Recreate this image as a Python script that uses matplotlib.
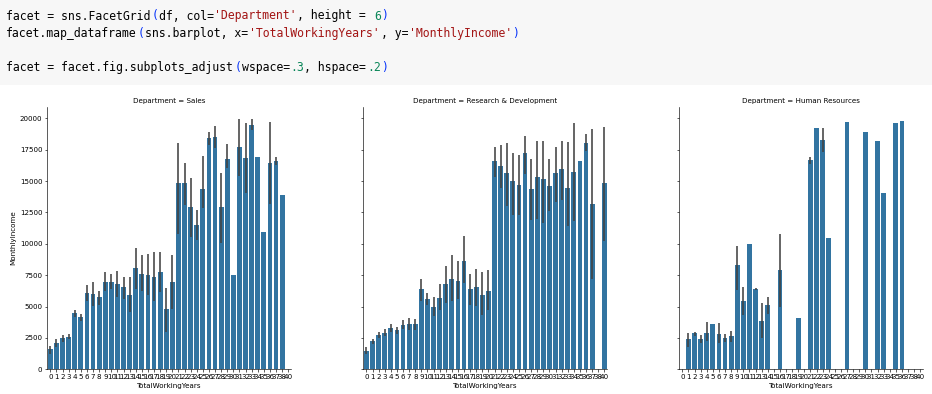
import numpy as np
import matplotlib
matplotlib.use("Agg")
import matplotlib.pyplot as plt
from matplotlib.patches import Rectangle

# ---------------- data ----------------
years = [str(v) for v in list(range(0, 39)) + [40]]
departments = ["Sales", "Research & Development", "Human Resources"]

sales_mean = [1594, 2098, 2497, 2603, 4462, 4170, 6082, 6003, 5764, 6959,
              6959, 6799, 6560, 5923, 8074, 7596, 7543, 7357, 7756, 4834,
              6959, 14821, 14821, 12935, 11501, 14369, 18433, 18486, 12935, 16760,
              7517, 17689, 16866, 19495, 16919, 10943, 16441, 16600, 13891, None]
sales_lo = [1248, 1753, 2205, 2417, 4170, 3851, 5445, 5046, 5126, 6242,
            6401, 5764, 5604, 4568, 6375, 6242, 5923, 5471, 6189, 2975,
            4807, 10784, 13121, 10571, 10305, 12855, 17875, 17636, 10093, 16042,
            None, 15405, 14077, 19070, None, None, 13174, 16281, None, None]
sales_hi = [1886, 2390, 2736, 2789, 4754, 4409, 6693, 6959, 6268, 7729,
            7570, 7809, 7384, 7384, 9695, 9084, 9163, 9349, 9349, 6507,
            9084, 18034, 16441, 15246, 12669, 17025, 18884, 19416, 15671, 17928,
            None, 19920, 19602, 19920, None, None, 19681, 16892, None, None]

rd_mean = [1487, 2258, 2736, 2922, 3293, 3134, 3533, 3612, 3612, 6375,
           5604, 4993, 5684, 6773, 7198, 7039, 8632, 6375, 6534, 5923,
           6242, 16600, 16175, 15644, 14980, 14688, 17264, 14369, 15325, 15166,
           14635, 15618, 15963, 14475, 15724, 16600, 18034, 13201, None, 14821]
rd_lo = [1222, 2045, 2470, 2683, 2975, 2815, 3187, 3161, 3161, 5471,
         5126, 4250, 4754, 5286, 5471, 5578, 6879, 5100, 5046, 4303,
         4728, 15325, 14475, 13015, 12271, 12324, 15564, 11926, 12005, 11660,
         12643, 13360, 13493, 11421, 11846, None, 17424, 7225, None, 10252]
rd_hi = [1753, 2417, 2975, 3214, 3639, 3373, 3904, 4064, 3984, 7225,
         6109, 5764, 6799, 8234, 9084, 8606, 10624, 7623, 7995, 7729,
         7915, 17689, 17849, 18034, 17211, 17078, 18566, 16760, 18194, 18194,
         16760, 17689, 18194, 18114, 19628, None, 18778, 19124, None, 19336]

hr_mean = [None, 2417, 2868, 2417, 2868, 3612, 2789, 2497, 2629, 8313,
           5445, 9987, 6375, 3878, 5126, None, 7915, None, None, 4064,
           None, 16680, 19230, 18274, 10465, None, None, 19708, None, None,
           18911, None, 18220, 14050, None, 19655, 19761, None, None, None]
hr_lo = [None, 1779, 2656, 2098, 2258, None, 2098, 2151, 2178, 6321,
         4303, None, 6295, 2497, 4409, None, 4966, None, None, None,
         None, 16335, None, 17291, None, None, None, None, None, None,
         None, None, None, None, None, None, None, None, None, None]
hr_hi = [None, 2868, 2975, 2736, 3771, None, 3665, 2815, 3054, 9827,
         6560, None, 6480, 5259, 5764, None, 10784, None, None, None,
         None, 16892, None, 19230, None, None, None, None, None, None,
         None, None, None, None, None, None, None, None, None, None]

series = [(sales_mean, sales_lo, sales_hi),
          (rd_mean, rd_lo, rd_hi),
          (hr_mean, hr_lo, hr_hi)]

yticks = [0, 2500, 5000, 7500, 10000, 12500, 15000, 17500, 20000]

code_lines = [
    [("facet = sns.FacetGrid", "k"), ("(", "b"), ("df, col=", "k"), ("'Department'", "s"),
     (", height = ", "k"), ("6", "n"), (")", "b")],
    [("facet.map_dataframe", "k"), ("(", "b"), ("sns.barplot, x=", "k"),
     ("'TotalWorkingYears'", "s"), (", y=", "k"), ("'MonthlyIncome'", "s"), (")", "b")],
    [],
    [("facet = facet.fig.subplots_adjust", "k"), ("(", "b"), ("wspace=", "k"), (".3", "n"),
     (", hspace=", "k"), (".2", "n"), (")", "b")],
]

# ---------------- figure ----------------
W, H = 932, 394
fig = plt.figure(figsize=(W / 100, H / 100), dpi=100)
fig.patch.set_facecolor("white")

# code cell background
fig.patches.append(Rectangle((0, 1 - 85 / H), 1, 85 / H, transform=fig.transFigure,
                             facecolor="#f7f7f7", edgecolor="none", zorder=0))

colors = {"k": "#000000", "b": "#0431fa", "s": "#a31515", "n": "#098658"}
code_fs = 8.3
cw = 0.602 * code_fs / 72 * 100  # px per char
line_y = [16, 33.5, 50.5, 67.5]
for li, segs in enumerate(code_lines):
    col = 0
    for text, c in segs:
        fig.text((6 + col * cw) / W, 1 - line_y[li] / H, text, family="DejaVu Sans Mono",
                 fontsize=code_fs, color=colors[c], va="center", ha="left")
        col += len(text)

fs = 5.1
bar_color = "#3274a1"
err_color = "#424242"
lefts = [47.3, 363.4, 679.3]
ax_w = 244.0
bottom_px = 369.3
top_px = 106.7

axes = []
for i, (dept, (mean, lo, hi)) in enumerate(zip(departments, series)):
    ax = fig.add_axes([lefts[i] / W, (H - bottom_px) / H, ax_w / W, (bottom_px - top_px) / H])
    axes.append(ax)
    pos = np.arange(len(years))
    vals = np.array([np.nan if v is None else v for v in mean], dtype=float)
    ax.bar(pos, vals, width=0.8, color=bar_color, linewidth=0)
    epos = [p for p, a, b in zip(pos, lo, hi) if a is not None]
    elo = [a for a in lo if a is not None]
    ehi = [b for b in hi if b is not None]
    ax.vlines(epos, elo, ehi, color=err_color, linewidth=1.15, zorder=3)
    ax.set_xlim(-0.5, len(years) - 0.5)
    ax.set_ylim(0, 20920)
    ax.set_xticks(pos)
    ax.set_xticklabels(years)
    ax.set_yticks(yticks)
    if i == 0:
        ax.set_yticklabels([str(t) for t in yticks])
        ax.set_ylabel("MonthlyIncome", fontsize=fs, labelpad=2.5)
    else:
        ax.set_yticklabels([])
    ax.set_xlabel("TotalWorkingYears", fontsize=fs, labelpad=2.0)
    ax.set_title(f"Department = {dept}", fontsize=fs, pad=2.6)
    ax.tick_params(labelsize=fs, length=1.8, width=0.45, pad=1.8)
    for s in ["top", "right"]:
        ax.spines[s].set_visible(False)
    for s in ["left", "bottom"]:
        ax.spines[s].set_linewidth(0.45)
    ax.set_facecolor("white")

fig.savefig("out.png", dpi=100)
